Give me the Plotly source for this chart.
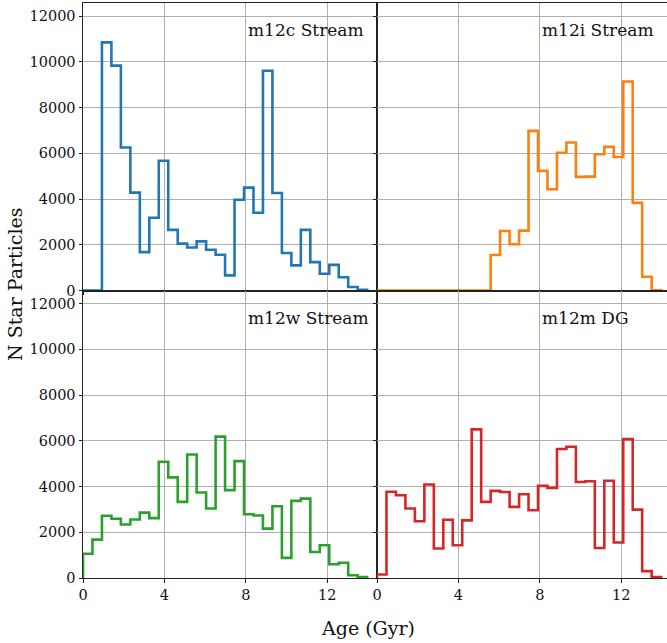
import numpy as np
import plotly.graph_objects as go

# ---- data (30 age bins, 0 to ~13.96 Gyr) ----
age_min = 0.0
age_max = 13.965
n_bins = 30

m12c_stream = [0, 0, 10850, 9830, 6250, 4280, 1680, 3180, 5670, 2650,
               2050, 1880, 2150, 1780, 1560, 660, 3970, 4500, 3400, 9610,
               4260, 1640, 1100, 2650, 1240, 730, 1120, 580, 150, 30]
m12i_stream = [0, 0, 0, 0, 0, 0, 0, 0, 0, 0,
               0, 0, 1550, 2600, 2020, 2620, 6980, 5230, 4430, 6020,
               6470, 4970, 4980, 5960, 6280, 5840, 9140, 3830, 600, 10]
m12w_stream = [1060, 1680, 2720, 2590, 2340, 2560, 2860, 2620, 5080, 4400,
               3330, 5400, 3740, 3040, 6180, 3840, 5110, 2790, 2730, 2160,
               3140, 880, 3370, 3470, 1140, 1430, 600, 670, 120, 40]
m12m_dg = [150, 3770, 3620, 3040, 2480, 4090, 1290, 2550, 1430, 2520,
           6500, 3330, 3810, 3760, 3110, 3660, 2960, 4030, 3940, 5640,
           5740, 4200, 4230, 1310, 4250, 1550, 6070, 2990, 300, 40]

panel_labels = ["m12c Stream", "m12i Stream", "m12w Stream", "m12m DG"]
panel_values = [m12c_stream, m12i_stream, m12w_stream, m12m_dg]
panel_colors = ["#1f77b4", "#ff7f0e", "#2ca02c", "#d62728"]

x_ticks = [0, 4, 8, 12]
y_ticks = [0, 2000, 4000, 6000, 8000, 10000, 12000]

edges = np.linspace(age_min, age_max, n_bins + 1)

W, H = 667, 643
ml, mt, mb = 83, 3, 65
plot_w = W - ml
plot_h = H - mt - mb
left_w = 294
x_max_left = 14.45
x_max_right = x_max_left * (plot_w - left_w) / left_w
y_max = 12570

fig = go.Figure()
FONT = "DejaVu Serif"
TICK = dict(family=FONT, size=14.5, color="#111")

xdom = [[0, left_w / plot_w], [left_w / plot_w, 1]]
ydom = [[0.5, 1], [0, 0.5]]

for i, (lab, vals, col) in enumerate(zip(panel_labels, panel_values, panel_colors)):
    r, c = divmod(i, 2)
    k = i + 1
    xs = [edges[0]] + list(edges[:-1]) + [edges[-1]]
    ys = [0] + list(vals) + [0]
    xa = "x" if k == 1 else f"x{k}"
    ya = "y" if k == 1 else f"y{k}"
    fig.add_trace(go.Scatter(x=xs, y=ys, mode="lines", line=dict(color=col, width=2.6, shape="hv"),
                             xaxis=xa, yaxis=ya, showlegend=False, hoverinfo="skip"))
    xkey = "xaxis" if k == 1 else f"xaxis{k}"
    ykey = "yaxis" if k == 1 else f"yaxis{k}"
    fig.layout[xkey] = dict(domain=xdom[c], anchor=ya, automargin=False,
                            range=[0, x_max_left if c == 0 else x_max_right],
                            tickvals=x_ticks, showticklabels=(r == 1),
                            ticks="outside", ticklen=3.5, tickwidth=0.8, tickcolor="#222",
                            showgrid=True, gridcolor="#b0b0b0", gridwidth=0.9,
                            showline=True, linecolor="#222", linewidth=1, mirror=True,
                            zeroline=False, tickfont=TICK)
    fig.layout[ykey] = dict(domain=ydom[r], anchor=xa, range=[0, y_max], automargin=False,
                            tickvals=y_ticks, tickformat="d", showticklabels=(c == 0),
                            ticks="outside", ticklen=3.5, tickwidth=0.8, tickcolor="#222",
                            showgrid=True, gridcolor="#b0b0b0", gridwidth=0.9,
                            showline=True, linecolor="#222", linewidth=1, mirror=(c == 0),
                            zeroline=False, tickfont=TICK)
    fig.add_annotation(x=8, y=11380, xref=xa, yref=ya, text=lab, showarrow=False,
                       xanchor="left", yanchor="middle",
                       font=dict(family=FONT, size=17, color="#111"))

fig.add_annotation(x=(15 - ml) / plot_w, y=(H - mb - 284) / plot_h, xref="paper", yref="paper",
                   text="N Star Particles", showarrow=False, textangle=-90,
                   xanchor="center", yanchor="middle",
                   font=dict(family=FONT, size=19, color="#111"))
fig.add_annotation(x=(368 - ml) / plot_w, y=(H - mb - 628) / plot_h, xref="paper", yref="paper",
                   text="Age (Gyr)", showarrow=False, xanchor="center", yanchor="middle",
                   font=dict(family=FONT, size=19, color="#111"))

fig.update_layout(width=W, height=H, margin=dict(l=ml, r=0, t=mt, b=mb, autoexpand=False),
                  paper_bgcolor="white", plot_bgcolor="white")
fig.write_html("out.html", config={"displayModeBar": False})

# remove default page margin so the figure sits at the window's top-left corner
with open("out.html", "r", encoding="utf-8") as f:
    html = f.read()
html = html.replace("<head>", "<head><style>html,body{margin:0;padding:0;overflow:hidden;}</style>", 1)
with open("out.html", "w", encoding="utf-8") as f:
    f.write(html)
